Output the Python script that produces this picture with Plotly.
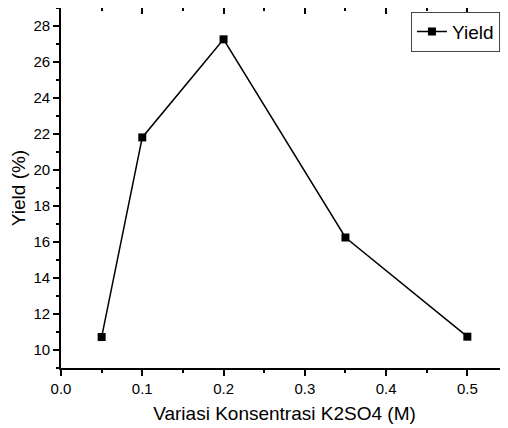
import plotly.graph_objects as go

concentration = [0.05, 0.1, 0.2, 0.35, 0.5]
yield_pct = [10.72, 21.81, 27.26, 16.25, 10.74]
series_name = "Yield"
x_title = "Variasi Konsentrasi K2SO4 (M)"
y_title = "Yield (%)"

FONT = "Liberation Sans, Arial, sans-serif"

fig = go.Figure()
fig.add_trace(go.Scatter(
    x=concentration, y=yield_pct, mode="lines+markers", name=series_name,
    line=dict(color="black", width=1.5),
    marker=dict(symbol="square", size=8, color="black"),
))
# invisible trace to carry the mirrored (inside-tick) axes
fig.add_trace(go.Scatter(x=[0], y=[9], xaxis="x2", yaxis="y2", mode="markers",
                         marker=dict(opacity=0), showlegend=False, hoverinfo="skip"))

common = dict(showgrid=False, zeroline=False, showline=True, linecolor="black",
              linewidth=1.6, tickcolor="black", tickwidth=1.5, automargin=False)

fig.update_layout(
    width=500, height=420,
    margin=dict(l=53, r=0, t=0, b=60, autoexpand=False),
    paper_bgcolor="white", plot_bgcolor="white",
    font=dict(family=FONT, color="black"),
    showlegend=True,
    legend=dict(x=0.982, y=0.99, xanchor="right", yanchor="top",
                bordercolor="#444", borderwidth=1, bgcolor="white",
                font=dict(size=19, family=FONT), itemwidth=30,
                tracegroupgap=0),
    xaxis=dict(range=[0, 0.55], dtick=0.1, tick0=0, tickformat=".1f",
               ticks="outside", ticklen=6, tickfont=dict(size=15),
               minor=dict(dtick=0.05, ticks="outside", ticklen=3, tickcolor="black", tickwidth=1.5),
               title=dict(text=x_title, font=dict(size=19), standoff=11),
               **common),
    yaxis=dict(range=[9, 29], dtick=2, tick0=10,
               ticks="outside", ticklen=6, tickfont=dict(size=15),
               minor=dict(dtick=1, ticks="outside", ticklen=3, tickcolor="black", tickwidth=1.5),
               title=dict(text=y_title, font=dict(size=19), standoff=8),
               **common),
    xaxis2=dict(range=[0, 0.55], dtick=0.1, tick0=0, overlaying="x", side="top",
                ticks="inside", ticklen=6, showticklabels=False,
                minor=dict(dtick=0.05, ticks="inside", ticklen=3, tickcolor="black", tickwidth=1.5),
                **common),
    yaxis2=dict(range=[9, 29], dtick=2, tick0=10, overlaying="y", side="right",
                ticks="inside", ticklen=6, showticklabels=False,
                minor=dict(dtick=1, ticks="inside", ticklen=3, tickcolor="black", tickwidth=1.5),
                **common),
)

fig.write_html("out.html")
